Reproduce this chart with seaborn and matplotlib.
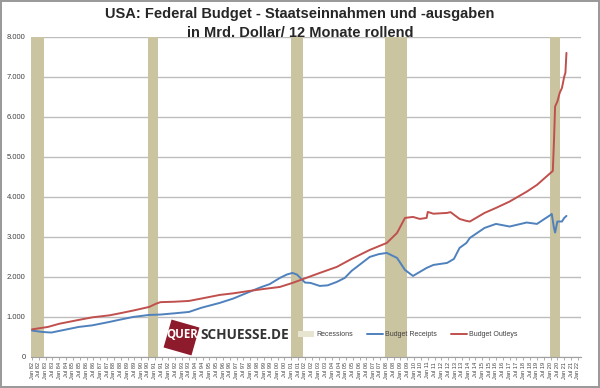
import numpy as np
import pandas as pd
import matplotlib
matplotlib.use("Agg")
import matplotlib.pyplot as plt
import matplotlib.dates as mdates
from matplotlib.patches import Patch, Polygon
from matplotlib.lines import Line2D
from matplotlib.transforms import IdentityTransform
import seaborn as sns

# ---- data (Mrd. Dollar, 12 months rolling) ----
outlays_dates = ["1982-01", "1983-03", "1984-01", "1985-06", "1986-06", "1987-09", "1988-06",
                 "1989-06", "1990-08", "1991-02", "1991-06", "1992-06", "1993-07", "1994-06",
                 "1995-10", "1996-10", "1997-12", "1999-01", "2000-03", "2001-02", "2002-02",
                 "2003-02", "2004-05", "2005-06", "2006-10", "2008-01", "2008-10", "2009-05",
                 "2009-12", "2010-06", "2010-12", "2011-01", "2011-06", "2012-06", "2012-09",
                 "2013-05", "2013-11", "2014-02", "2015-03", "2016-01", "2017-01", "2018-04",
                 "2019-01", "2020-01", "2020-02", "2020-03", "2020-04", "2020-05", "2020-07",
                 "2020-09", "2020-11", "2021-01", "2021-02", "2021-03"]
outlays = [690, 750, 830, 925, 990, 1040, 1090,
           1160, 1250, 1330, 1370, 1380, 1400, 1460,
           1550, 1590, 1650, 1700, 1750, 1850, 1975,
           2100, 2250, 2450, 2675, 2850, 3100, 3475,
           3500, 3450, 3475, 3625, 3580, 3600, 3620,
           3450, 3400, 3385, 3600, 3725, 3885, 4130,
           4300, 4600, 4625, 4650, 5400, 6260, 6385,
           6600, 6725, 7010, 7100, 7600]

receipts_dates = ["1982-01", "1982-10", "1983-06", "1984-06", "1985-06", "1986-06", "1987-09",
                  "1988-06", "1989-06", "1990-08", "1991-06", "1992-06", "1993-07", "1994-06",
                  "1995-10", "1996-10", "1997-12", "1998-10", "1999-06", "2000-03", "2000-09",
                  "2001-02", "2001-06", "2002-01", "2002-06", "2003-02", "2003-09", "2004-05",
                  "2004-12", "2005-06", "2006-10", "2007-06", "2008-01", "2008-10", "2009-05",
                  "2009-12", "2010-06", "2010-12", "2011-06", "2012-06", "2012-12", "2013-05",
                  "2013-11", "2014-02", "2015-03", "2016-01", "2017-01", "2018-04", "2019-01",
                  "2020-01", "2020-02", "2020-04", "2020-05", "2020-07", "2020-11", "2021-01",
                  "2021-03"]
receipts = [660, 625, 610, 680, 750, 790, 875,
            930, 1000, 1050, 1060, 1090, 1125, 1230,
            1350, 1460, 1625, 1740, 1820, 1975, 2060,
            2100, 2060, 1860, 1850, 1775, 1790, 1875,
            1975, 2150, 2500, 2570, 2600, 2475, 2175,
            2025, 2125, 2225, 2300, 2350, 2450, 2725,
            2850, 2975, 3225, 3325, 3260, 3360, 3325,
            3550, 3575, 3225, 3110, 3385, 3385, 3475,
            3525]

rec_start = ["1981-11-01", "1990-07-01", "2001-01-01", "2007-11-01", "2019-12-15"]
rec_end = ["1982-11-15", "1991-03-15", "2001-11-15", "2009-06-15", "2020-09-15"]

yticks = [0, 1000, 2000, 3000, 4000, 5000, 6000, 7000, 8000]
ytick_labels = ["0", "1.000", "2.000", "3.000", "4.000", "5.000", "6.000", "7.000", "8.000"]

# ---- style ----
sns.set_style("white")
plt.rcParams['font.family'] = ['Liberation Sans', 'DejaVu Sans']

RED = "#C0504D"
BLUE = "#4F81BD"
REC = "#CBC4A0"

fig = plt.figure(figsize=(6, 3.88), dpi=100)
fig.patch.set_edgecolor("#9A9A9A")
fig.patch.set_linewidth(1.5)
ax = fig.add_axes([0.052, 0.080, 0.916, 0.825])

# recessions
for s, e in zip(rec_start, rec_end):
    ax.axvspan(pd.Timestamp(s), pd.Timestamp(e), color=REC, lw=0, zorder=1)

# gridlines
ax.set_yticks(yticks)
ax.set_yticklabels(ytick_labels)
ax.yaxis.grid(True, color="#BDBDBD", lw=1.0, zorder=0)
ax.set_axisbelow(True)

sns.lineplot(x=pd.to_datetime(receipts_dates), y=receipts, color=BLUE, lw=1.4, ax=ax, zorder=3)
sns.lineplot(x=pd.to_datetime(outlays_dates), y=outlays, color=RED, lw=1.4, ax=ax, zorder=3)
ax.set_xlabel("")
ax.set_ylabel("")

ax.set_ylim(0, 8000)
ax.set_xlim(pd.Timestamp("1981-12-10"), pd.Timestamp("2022-03-20"))

ax.xaxis.set_major_locator(mdates.MonthLocator(bymonth=[1, 7]))
ax.xaxis.set_major_formatter(mdates.DateFormatter("%b %y"))
ax.tick_params(axis="x", rotation=90, labelsize=4.1, colors="#404040",
               length=2.5, width=0.6, pad=1.0, bottom=True)
ax.tick_params(axis="x", color="#A0A0A0")
ax.tick_params(axis="y", labelsize=5.5, colors="#404040", length=0, pad=4)

for side in ["top", "right", "left"]:
    ax.spines[side].set_visible(False)
ax.spines["bottom"].set_color("#A0A0A0")
ax.spines["bottom"].set_linewidth(0.8)

# legend
handles = [Patch(facecolor="#E7E4CF", edgecolor="none", label="Recessions"),
           Line2D([], [], color=BLUE, lw=1.4, label="Budget Receipts"),
           Line2D([], [], color=RED, lw=1.4, label="Budget Outleys")]
ax.legend(handles=handles, loc="center", bbox_to_anchor=(0.685, 0.069), ncol=3,
          frameon=False, fontsize=5.0, handlelength=2.3, handleheight=0.8,
          columnspacing=2.0, handletextpad=0.3, labelcolor="#404040")

# titles
fig.text(0.5, 1 - 14 / 388, "USA: Federal Budget - Staatseinnahmen und -ausgaben",
         ha="center", va="center", fontsize=10.5, fontweight="bold")
fig.text(0.5, 1 - 33 / 388, "in Mrd. Dollar/ 12 Monate rollend",
         ha="center", va="center", fontsize=10.5, fontweight="bold")

# logo
cx, cy, half, ang = 181.5, 388 - 337.5, 14.5, np.deg2rad(-16)
corners = np.array([[-half, -half], [half, -half], [half, half], [-half, half]])
rot = np.array([[np.cos(ang), -np.sin(ang)], [np.sin(ang), np.cos(ang)]])
pts = corners @ rot.T + [cx, cy]
fig.add_artist(Polygon(pts, closed=True, facecolor="#8E1B2C", edgecolor="none",
                       transform=IdentityTransform(), zorder=5))
fig.text(166 / 600, 1 - 335 / 388, "QUER", color="white", fontsize=8.3, fontweight="bold",
         ha="left", va="center", zorder=6, family=["Open Sans", "DejaVu Sans"])
fig.text(200 / 600, 1 - 335 / 388, "SCHUESSE.DE", color="#333333", fontsize=9.8,
         fontweight="bold", ha="left", va="center", zorder=6, family=["Open Sans", "DejaVu Sans"])

fig.savefig("out.png", dpi=100, edgecolor=fig.get_edgecolor())
